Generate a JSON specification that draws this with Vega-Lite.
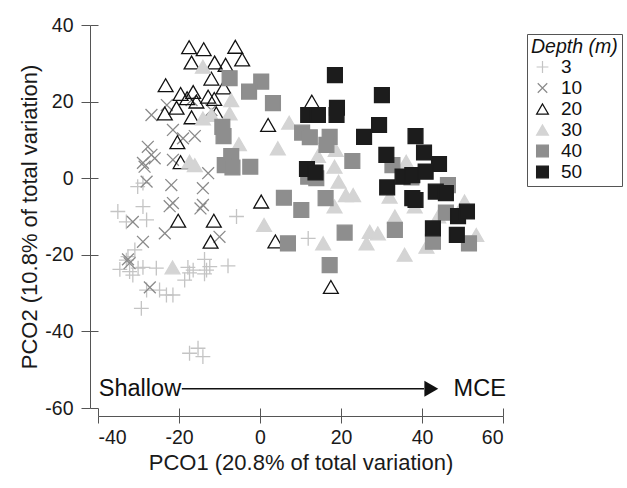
{
  "$schema": "https://vega.github.io/schema/vega-lite/v6.json",
  "width": 405,
  "height": 383,
  "autosize": {"type": "none"},
  "padding": {"left": 98, "top": 25, "right": 124, "bottom": 80},
  "config": {
    "font": "Liberation Sans",
    "view": {"stroke": null},
    "axis": {"grid": false, "domainColor": "#555555", "tickColor": "#555555", "labelColor": "#1a1a1a", "titleColor": "#1a1a1a", "titleFontWeight": "normal", "labelFont": "Liberation Sans", "titleFont": "Liberation Sans"}
  },
  "resolve": {"axis": {"x": "independent", "y": "independent"}},
  "layer": [
    {
      "data": {"values": [
        {"x": -28.9, "y": -1.3, "depth": "3"}, {"x": -30.2, "y": -2.2, "depth": "3"}, {"x": -35.1, "y": -8.7, "depth": "3"}, {"x": -28.9, "y": -7.4, "depth": "3"}, {"x": -28.0, "y": -10.9, "depth": "3"}, {"x": -33.0, "y": -11.4, "depth": "3"}, {"x": -5.8, "y": -10.0, "depth": "3"}, {"x": -30.9, "y": -18.7, "depth": "3"}, {"x": -33.0, "y": -21.4, "depth": "3"}, {"x": -34.6, "y": -23.8, "depth": "3"}, {"x": -32.2, "y": -24.4, "depth": "3"}, {"x": -30.1, "y": -23.5, "depth": "3"}, {"x": -28.9, "y": -23.3, "depth": "3"}, {"x": -25.6, "y": -23.5, "depth": "3"}, {"x": -17.8, "y": -23.3, "depth": "3"}, {"x": -16.5, "y": -24.0, "depth": "3"}, {"x": -13.7, "y": -21.2, "depth": "3"}, {"x": -12.4, "y": -23.1, "depth": "3"}, {"x": -7.9, "y": -22.9, "depth": "3"}, {"x": -13.7, "y": -25.0, "depth": "3"}, {"x": -18.6, "y": -26.6, "depth": "3"}, {"x": -28.0, "y": -29.2, "depth": "3"}, {"x": -24.8, "y": -29.2, "depth": "3"}, {"x": -23.1, "y": -30.5, "depth": "3"}, {"x": -21.5, "y": -30.5, "depth": "3"}, {"x": -29.3, "y": -34.0, "depth": "3"}, {"x": -17.4, "y": -45.7, "depth": "3"}, {"x": -15.3, "y": -44.4, "depth": "3"}, {"x": -14.1, "y": -46.6, "depth": "3"}, {"x": 11.9, "y": -15.7, "depth": "3"}, {"x": -32.6, "y": -20.5, "depth": "3"}, {"x": -31.4, "y": -25.3, "depth": "3"}, {"x": -17.4, "y": -24.7, "depth": "3"}, {"x": -13.2, "y": -24.0, "depth": "3"},
        {"x": -23.0, "y": 19.1, "depth": "10"}, {"x": -26.8, "y": 16.5, "depth": "10"}, {"x": -21.5, "y": 12.6, "depth": "10"}, {"x": -16.1, "y": 11.0, "depth": "10"}, {"x": -19.0, "y": 10.4, "depth": "10"}, {"x": -27.7, "y": 8.2, "depth": "10"}, {"x": -26.8, "y": 6.1, "depth": "10"}, {"x": -28.9, "y": 4.0, "depth": "10"}, {"x": -26.0, "y": 5.2, "depth": "10"}, {"x": -28.5, "y": 3.0, "depth": "10"}, {"x": -21.5, "y": 4.8, "depth": "10"}, {"x": -12.8, "y": 1.3, "depth": "10"}, {"x": -28.0, "y": -0.9, "depth": "10"}, {"x": -21.9, "y": -1.8, "depth": "10"}, {"x": -14.1, "y": -2.6, "depth": "10"}, {"x": -16.9, "y": 20.4, "depth": "10"}, {"x": -12.0, "y": 17.8, "depth": "10"}, {"x": -22.3, "y": -7.3, "depth": "10"}, {"x": -21.5, "y": -6.5, "depth": "10"}, {"x": -14.7, "y": -7.9, "depth": "10"}, {"x": -14.1, "y": -7.0, "depth": "10"}, {"x": -31.4, "y": -11.4, "depth": "10"}, {"x": -23.5, "y": -14.4, "depth": "10"}, {"x": -10.0, "y": -15.3, "depth": "10"}, {"x": -28.9, "y": -16.6, "depth": "10"}, {"x": -32.6, "y": -21.2, "depth": "10"}, {"x": -32.2, "y": -22.2, "depth": "10"}, {"x": -27.2, "y": -28.5, "depth": "10"},
        {"x": -17.5, "y": 34.2, "depth": "20"}, {"x": -13.9, "y": 33.7, "depth": "20"}, {"x": -6.1, "y": 34.3, "depth": "20"}, {"x": -4.4, "y": 31.0, "depth": "20"}, {"x": -16.9, "y": 30.2, "depth": "20"}, {"x": -11.2, "y": 30.2, "depth": "20"}, {"x": -8.5, "y": 29.6, "depth": "20"}, {"x": -12.0, "y": 26.0, "depth": "20"}, {"x": -23.3, "y": 24.3, "depth": "20"}, {"x": -9.0, "y": 23.7, "depth": "20"}, {"x": -19.6, "y": 22.0, "depth": "20"}, {"x": -16.5, "y": 22.5, "depth": "20"}, {"x": -18.0, "y": 20.9, "depth": "20"}, {"x": -12.8, "y": 21.3, "depth": "20"}, {"x": -11.3, "y": 20.7, "depth": "20"}, {"x": -15.7, "y": 20.0, "depth": "20"}, {"x": -20.6, "y": 18.4, "depth": "20"}, {"x": -23.5, "y": 16.9, "depth": "20"}, {"x": -16.9, "y": 15.9, "depth": "20"}, {"x": -10.8, "y": 16.9, "depth": "20"}, {"x": 2.0, "y": 13.9, "depth": "20"}, {"x": -20.4, "y": 9.4, "depth": "20"}, {"x": -19.6, "y": 4.2, "depth": "20"}, {"x": -20.2, "y": -11.1, "depth": "20"}, {"x": -11.4, "y": -11.1, "depth": "20"}, {"x": -12.2, "y": -16.6, "depth": "20"}, {"x": 3.8, "y": -16.5, "depth": "20"}, {"x": 12.8, "y": 20.0, "depth": "20"}, {"x": 0.3, "y": -6.1, "depth": "20"}, {"x": 17.5, "y": -28.4, "depth": "20"},
        {"x": -14.1, "y": 29.1, "depth": "30"}, {"x": -7.1, "y": 20.4, "depth": "30"}, {"x": -7.5, "y": 16.9, "depth": "30"}, {"x": -14.1, "y": 15.6, "depth": "30"}, {"x": -12.0, "y": 16.5, "depth": "30"}, {"x": -5.2, "y": 8.9, "depth": "30"}, {"x": 4.4, "y": 7.8, "depth": "30"}, {"x": -17.4, "y": 4.3, "depth": "30"}, {"x": -16.1, "y": 3.4, "depth": "30"}, {"x": -21.6, "y": -23.3, "depth": "30"}, {"x": 1.0, "y": -12.2, "depth": "30"}, {"x": 7.2, "y": 14.5, "depth": "30"}, {"x": 16.4, "y": 10.8, "depth": "30"}, {"x": 18.7, "y": 7.4, "depth": "30"}, {"x": 14.3, "y": 5.8, "depth": "30"}, {"x": 18.4, "y": 3.0, "depth": "30"}, {"x": 19.4, "y": -0.9, "depth": "30"}, {"x": 21.2, "y": -4.4, "depth": "30"}, {"x": 23.0, "y": -4.4, "depth": "30"}, {"x": 18.4, "y": -7.4, "depth": "30"}, {"x": 15.6, "y": -17.0, "depth": "30"}, {"x": 27.1, "y": -14.0, "depth": "30"}, {"x": 29.1, "y": -14.4, "depth": "30"}, {"x": 33.3, "y": -10.0, "depth": "30"}, {"x": 26.3, "y": -17.0, "depth": "30"}, {"x": 36.1, "y": 4.3, "depth": "30"}, {"x": 32.0, "y": -4.8, "depth": "30"}, {"x": 38.2, "y": -7.4, "depth": "30"}, {"x": 44.0, "y": -10.0, "depth": "30"}, {"x": 41.1, "y": -17.9, "depth": "30"}, {"x": 50.5, "y": -6.1, "depth": "30"}, {"x": 53.4, "y": -14.8, "depth": "30"}, {"x": 35.7, "y": -20.0, "depth": "30"},
        {"x": -7.5, "y": 26.1, "depth": "40"}, {"x": 0.3, "y": 25.2, "depth": "40"}, {"x": -2.7, "y": 22.6, "depth": "40"}, {"x": 3.2, "y": 19.6, "depth": "40"}, {"x": -9.3, "y": 13.4, "depth": "40"}, {"x": -9.0, "y": 11.0, "depth": "40"}, {"x": -7.1, "y": 5.8, "depth": "40"}, {"x": -8.7, "y": 3.4, "depth": "40"}, {"x": -6.8, "y": 2.8, "depth": "40"}, {"x": -2.4, "y": 3.0, "depth": "40"}, {"x": 10.4, "y": 11.9, "depth": "40"}, {"x": 12.3, "y": 10.7, "depth": "40"}, {"x": 17.2, "y": 10.8, "depth": "40"}, {"x": 16.4, "y": 8.7, "depth": "40"}, {"x": 22.8, "y": 4.5, "depth": "40"}, {"x": 11.9, "y": 0.4, "depth": "40"}, {"x": 13.9, "y": 0.0, "depth": "40"}, {"x": 16.2, "y": -5.2, "depth": "40"}, {"x": 5.9, "y": -5.1, "depth": "40"}, {"x": 10.2, "y": -8.3, "depth": "40"}, {"x": 32.7, "y": 3.4, "depth": "40"}, {"x": 37.4, "y": 0.2, "depth": "40"}, {"x": 46.4, "y": -1.8, "depth": "40"}, {"x": 45.9, "y": -9.0, "depth": "40"}, {"x": 33.3, "y": -13.5, "depth": "40"}, {"x": 20.9, "y": -14.2, "depth": "40"}, {"x": 6.9, "y": -17.0, "depth": "40"}, {"x": 42.7, "y": -16.6, "depth": "40"}, {"x": 51.6, "y": -17.0, "depth": "40"}, {"x": 17.2, "y": -22.7, "depth": "40"},
        {"x": 18.5, "y": 26.9, "depth": "50"}, {"x": 30.1, "y": 21.7, "depth": "50"}, {"x": 19.0, "y": 18.4, "depth": "50"}, {"x": 11.9, "y": 16.5, "depth": "50"}, {"x": 14.3, "y": 16.5, "depth": "50"}, {"x": 18.9, "y": 16.5, "depth": "50"}, {"x": 29.4, "y": 13.9, "depth": "50"}, {"x": 25.7, "y": 10.8, "depth": "50"}, {"x": 38.4, "y": 11.0, "depth": "50"}, {"x": 31.2, "y": 6.1, "depth": "50"}, {"x": 40.5, "y": 6.7, "depth": "50"}, {"x": 44.2, "y": 3.7, "depth": "50"}, {"x": 11.6, "y": 2.4, "depth": "50"}, {"x": 13.7, "y": 1.5, "depth": "50"}, {"x": 35.2, "y": 0.4, "depth": "50"}, {"x": 37.6, "y": 0.8, "depth": "50"}, {"x": 40.9, "y": 1.7, "depth": "50"}, {"x": 31.4, "y": -2.4, "depth": "50"}, {"x": 37.6, "y": -5.2, "depth": "50"}, {"x": 38.4, "y": -5.7, "depth": "50"}, {"x": 43.4, "y": -3.5, "depth": "50"}, {"x": 45.9, "y": -3.9, "depth": "50"}, {"x": 48.9, "y": -9.9, "depth": "50"}, {"x": 51.1, "y": -8.7, "depth": "50"}, {"x": 42.7, "y": -13.1, "depth": "50"}, {"x": 48.6, "y": -14.8, "depth": "50"}
      ]},
      "mark": {"type": "point", "filled": true, "opacity": 1, "size": 220, "strokeWidth": 1.3},
      "encoding": {
        "x": {"field": "x", "type": "quantitative", "scale": {"domain": [-40, 60], "nice": false, "zero": false},
          "axis": {"orient": "bottom", "offset": 8, "tickSize": 7, "values": [-40, -20, 0, 20, 40, 60], "labelExpr": "'' + datum.value", "labelFontSize": 19.5, "labelPadding": 5, "title": "PCO1 (20.8% of total variation)", "titleFontSize": 22, "titlePadding": 6}},
        "y": {"field": "y", "type": "quantitative", "scale": {"domain": [-60, 40], "nice": false, "zero": false},
          "axis": {"orient": "left", "offset": 8, "tickSize": 9, "values": [-60, -40, -20, 0, 20, 40], "labelExpr": "'' + datum.value", "labelFontSize": 19.5, "labelPadding": 8, "title": "PCO2 (10.8% of total variation)", "titleFontSize": 22, "titlePadding": 3}},
        "shape": {"field": "depth", "type": "nominal", "title": "Depth (m)",
          "scale": {"domain": ["3", "10", "20", "30", "40", "50"], "range": ["M-1,0H1M0,-1V1", "M-0.8,-0.8L0.8,0.8M-0.8,0.8L0.8,-0.8", "triangle-up", "triangle-up", "square", "square"]},
          "legend": {"orient": "none", "legendX": 429, "legendY": 9, "padding": 4, "strokeColor": "#555555", "fillColor": "white", "titleFontStyle": "italic", "titleFontWeight": "normal", "titleFontSize": 19.5, "titleColor": "#111111", "titlePadding": 0, "labelFontSize": 19, "labelColor": "#111111", "symbolSize": 140, "symbolStrokeWidth": 1.2, "rowPadding": 1, "labelOffset": 9, "symbolOffset": 2}},
        "fill": {"field": "depth", "type": "nominal", "title": "Depth (m)",
          "scale": {"domain": ["3", "10", "20", "30", "40", "50"], "range": ["transparent", "transparent", "transparent", "#d4d4d4", "#8e8e8e", "#1c1c1c"]}},
        "stroke": {"field": "depth", "type": "nominal", "title": "Depth (m)",
          "scale": {"domain": ["3", "10", "20", "30", "40", "50"], "range": ["#c4c4c4", "#8a8a8a", "#111111", "#d4d4d4", "#8e8e8e", "#1c1c1c"]}}
      }
    },
    {
      "data": {"values": [{"x": -19.3, "x2": 40.5, "y": -55}]},
      "mark": {"type": "rule", "color": "#111111", "strokeWidth": 1.5},
      "encoding": {
        "x": {"field": "x", "type": "quantitative", "axis": {"orient": "bottom", "offset": 0, "tickSize": 8, "values": [-40, -20, 0, 20, 40, 60], "domain": false, "labels": false, "title": null}},
        "x2": {"field": "x2"},
        "y": {"field": "y", "type": "quantitative", "axis": {"orient": "left", "offset": 0, "tickSize": 8, "values": [-60, -40, -20, 0, 20, 40], "domain": false, "labels": false, "title": null}}
      }
    },
    {
      "data": {"values": [{"x": 42.3, "y": -55}]},
      "mark": {"type": "point", "shape": "triangle-right", "filled": true, "color": "#111111", "opacity": 1, "size": 256},
      "encoding": {
        "x": {"field": "x", "type": "quantitative", "axis": null},
        "y": {"field": "y", "type": "quantitative", "axis": null}
      }
    },
    {
      "data": {"values": [{"x": -39.8, "y": -55, "label": "Shallow"}, {"x": 47.8, "y": -55, "label": "MCE"}]},
      "mark": {"type": "text", "align": "left", "baseline": "middle", "fontSize": 23.5, "color": "#111111"},
      "encoding": {
        "x": {"field": "x", "type": "quantitative", "axis": null},
        "y": {"field": "y", "type": "quantitative", "axis": null},
        "text": {"field": "label"}
      }
    }
  ]
}
